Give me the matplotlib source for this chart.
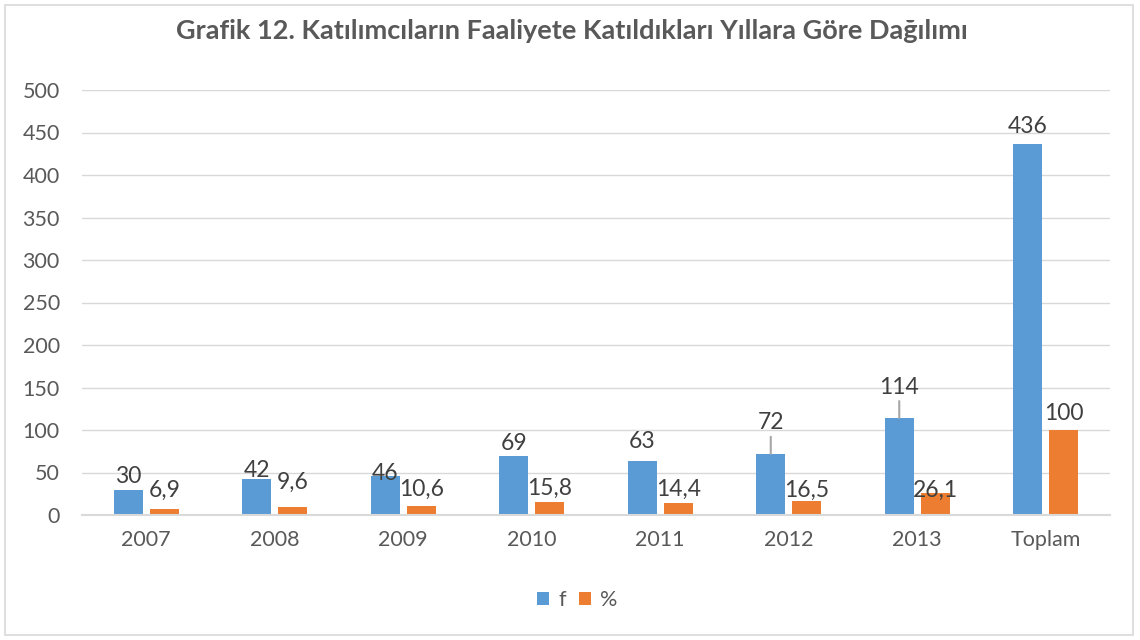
import matplotlib
matplotlib.use("Agg")
import matplotlib.pyplot as plt
import numpy as np
from matplotlib.patches import Rectangle

categories = ["2007", "2008", "2009", "2010", "2011", "2012", "2013", "Toplam"]
f_values = [30, 42, 46, 69, 63, 72, 114, 436]
pct_values = [6.9, 9.6, 10.6, 15.8, 14.4, 16.5, 26.1, 100]
pct_labels = ["6,9", "9,6", "10,6", "15,8", "14,4", "16,5", "26,1", "100"]

# label nudges above bar top (pixels), as placed in the original
f_label_px = [13, 9, 2, 13, 20, 31, 31, 18]
pct_label_px = [19, 24, 17, 13, 13, 11, 2, 16]
leader = [False, False, False, False, False, True, True, False]

BLUE = "#5B9BD5"
ORANGE = "#ED7D31"
TEXT = "#595959"
GRID = "#D9D9D9"

plt.rcParams["font.family"] = ["Lato", "DejaVu Sans"]

fig = plt.figure(figsize=(11.4, 6.4), dpi=100)
ax = fig.add_axes([82 / 1140, 125 / 640, 1028 / 1140, 425 / 640])

x = np.arange(len(categories))
w = 0.225
off = 0.14
ax.bar(x - off, f_values, w, color=BLUE, label="f", zorder=3)
ax.bar(x + off, pct_values, w, color=ORANGE, label="%", zorder=3)

px2pt = 72 / 100
for i in range(len(categories)):
    ax.annotate(str(f_values[i]), (x[i] - off, f_values[i]), xytext=(0, f_label_px[i] * px2pt),
                textcoords="offset points", ha="center", va="center", fontsize=16.5, color="#404040", zorder=5)
    if leader[i]:
        ax.annotate("", (x[i] - off, f_values[i]), xytext=(0, (f_label_px[i] - 14) * px2pt),
                    textcoords="offset points",
                    arrowprops=dict(arrowstyle="-", color="#A6A6A6", lw=1.5, shrinkA=0, shrinkB=0))
    ax.annotate(pct_labels[i], (x[i] + off, pct_values[i]), xytext=(0, pct_label_px[i] * px2pt),
                textcoords="offset points", ha="center", va="center", fontsize=16.5, color="#404040", zorder=5)

ax.set_xlim(-0.5, len(categories) - 0.5)
ax.set_ylim(0, 500)
ax.set_yticks(np.arange(0, 501, 50))
ax.set_xticks(x)
ax.set_xticklabels(categories)
ax.grid(axis="y", color=GRID, linewidth=1, zorder=0)
for s in ["top", "right", "left"]:
    ax.spines[s].set_visible(False)
ax.spines["bottom"].set_color(GRID)
ax.spines["bottom"].set_linewidth(1.5)
ax.spines["bottom"].set_zorder(4)
ax.tick_params(axis="both", length=0, labelsize=15.5, colors=TEXT)
ax.tick_params(axis="x", pad=11)
ax.tick_params(axis="y", pad=16)

fig.text(0.502, 1 - 31 / 640, "Grafik 12. Katılımcıların Faaliyete Katıldıkları Yıllara Göre Dağılımı",
         ha="center", va="center", fontsize=19.5, fontweight="bold", color=TEXT)

leg = fig.legend(loc="center", bbox_to_anchor=(577 / 1140, 1 - 600 / 640), ncol=2, frameon=False,
                 fontsize=15.5, handlelength=0.6, handleheight=0.6, handletextpad=0.4, columnspacing=0.6)
for t in leg.get_texts():
    t.set_color(TEXT)

fig.patches.append(Rectangle((5 / 1140, 5 / 640), 1128 / 1140, 630 / 640, transform=fig.transFigure,
                             fill=False, edgecolor="#D9D9D9", linewidth=1.2))

fig.savefig("out.png", dpi=100)
